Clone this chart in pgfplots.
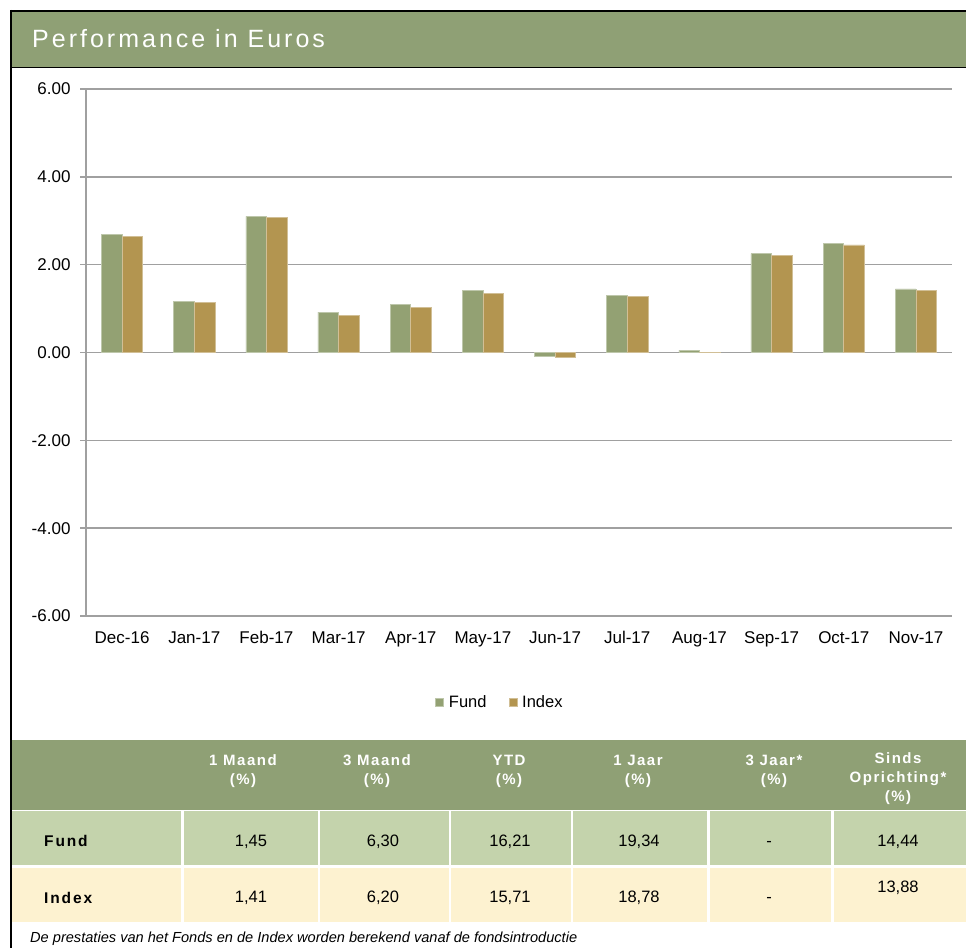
\documentclass[border=0pt]{standalone}
\usepackage{pgfplots}
\pgfplotsset{compat=1.18}
\usepackage{fontspec}
\setmainfont{Liberation Sans}
\definecolor{fundc}{HTML}{93A173}
\definecolor{indexc}{HTML}{B39550}
\definecolor{headc}{HTML}{8FA075}
\definecolor{rowf}{HTML}{C4D3AC}
\definecolor{rowi}{HTML}{FDF2D0}
\definecolor{gridc}{HTML}{A0A0A0}
\newcommand{\fs}[1]{\fontsize{#1bp}{#1bp}\selectfont}

\pgfplotstableread{
x val
0 2.69
1 1.16
2 3.10
3 0.92
4 1.09
5 1.41
6 -0.08
7 1.30
8 0.05
9 2.25
10 2.48
11 1.45
}\fundtab
\pgfplotstableread{
x val
0 2.64
1 1.14
2 3.07
3 0.85
4 1.03
5 1.34
6 -0.12
7 1.27
8 0.01
9 2.21
10 2.45
11 1.41
}\indextab

\begin{document}
\begin{tikzpicture}[x=1bp,y=1bp]
\useasboundingbox (0,0) rectangle (966,948);
% title bar
\fill[headc] (10,937) rectangle (966,881);
\draw[black, line width=2bp] (10,937) -- (966,937);
\draw[black, line width=1.5bp] (10,880.5) -- (966,880.5);
\draw[black, line width=2bp] (11,938) -- (11,0);
\node[anchor=base west, inner sep=0, text=white, font=\fs{25}\addfontfeature{LetterSpace=12}] at (32,900) {Performance in Euros};

\begin{axis}[
  at={(86bp,332bp)}, anchor=south west,
  width=866bp, height=527bp, scale only axis,
  ymin=-6, ymax=6, ytick={-6,-4,...,6},
  xmin=-0.5, xmax=11.5, xtick={0,...,11},
  xticklabels={Dec-16,Jan-17,Feb-17,Mar-17,Apr-17,May-17,Jun-17,Jul-17,Aug-17,Sep-17,Oct-17,Nov-17},
  ybar=0pt, bar width=20.6bp,
  axis lines*=left,
  axis line style={gridc, line width=1.5bp},
  ymajorgrids, grid style={gridc, line width=1.5bp},
  ytick style={gridc, line width=1.5bp},
  xtick style={draw=none},
  tick align=outside, major tick length=6bp,
  yticklabel style={xshift=-6bp, /pgf/number format/.cd, fixed, fixed zerofill, precision=2},
  xticklabel style={yshift=-6bp},
  /pgf/number format/assume math mode=true,
  tick label style={font=\fs{17}},
  legend columns=2,
  legend style={at={(0.478,-0.163)}, anchor=center, draw=none, font=\fs{16.5},
    /tikz/every even column/.append style={column sep=20bp}},
  legend image code/.code={\fill[#1] (0bp,-4bp) rectangle (8bp,4bp); \path (11bp,0bp);},
]
\addplot[fill=fundc, draw=fundc!60!white, line width=0.6bp] table[x=x,y=val] {\fundtab};
\addplot[fill=indexc, draw=indexc!60!white, line width=0.6bp] table[x=x,y=val] {\indextab};
\legend{Fund,Index}
\end{axis}

% table
\fill[headc] (12,208) rectangle (966,138);
\foreach \a/\b in {12/181,184/317.5,320/448.5,451/570.5,573/707,709.5/831,833.5/966}{
  \fill[rowf] (\a,136.5) rectangle (\b,83);
  \fill[rowi] (\a,80) rectangle (\b,26);
}
\tikzset{hd/.style={anchor=base, inner sep=0, text=white, font=\fs{15}\bfseries\addfontfeature{LetterSpace=10}}}
\node[hd] at (243,182) {1 Maand};
\node[hd] at (243,163) {(\%)};
\node[hd] at (377,182) {3 Maand};
\node[hd] at (377,163) {(\%)};
\node[hd] at (509,182) {YTD};
\node[hd] at (509,163) {(\%)};
\node[hd] at (638,182) {1 Jaar};
\node[hd] at (638,163) {(\%)};
\node[hd] at (774,182) {3 Jaar*};
\node[hd] at (774,163) {(\%)};
\node[hd] at (898,184) {Sinds};
\node[hd] at (898,165) {Oprichting*};
\node[hd] at (898,146) {(\%)};

\tikzset{rl/.style={anchor=base west, inner sep=0, font=\fs{15.5}\bfseries\addfontfeature{LetterSpace=12}},
         nm/.style={anchor=base, inner sep=0, font=\fs{16.5}}}
\node[rl] at (44,101) {Fund};
\node[rl] at (44,44.5) {Index};
\node[nm] at (251,101) {1,45};
\node[nm] at (383,101) {6,30};
\node[nm] at (510,101) {16,21};
\node[nm] at (639,101) {19,34};
\node[nm] at (769,101) {-};
\node[nm] at (898,101) {14,44};
\node[nm] at (251,45.5) {1,41};
\node[nm] at (383,45.5) {6,20};
\node[nm] at (510,45.5) {15,71};
\node[nm] at (639,45.5) {18,78};
\node[nm] at (769,45.5) {-};
\node[nm] at (898,55.5) {13,88};

\node[anchor=base west, inner sep=0, font=\fs{14.6}\itshape] at (30,5.5) {De prestaties van het Fonds en de Index worden berekend vanaf de fondsintroductie};
\end{tikzpicture}
\end{document}
